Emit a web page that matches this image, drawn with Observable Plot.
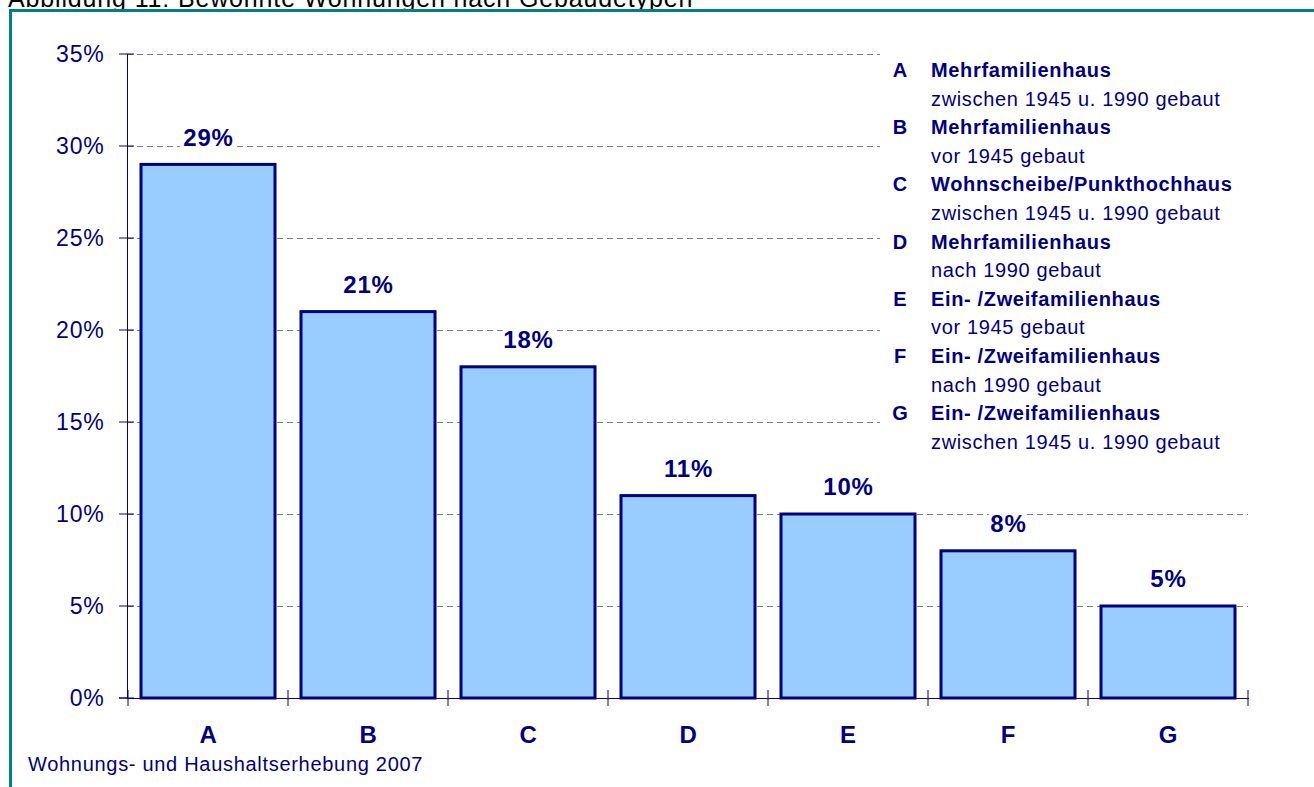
<!DOCTYPE html>
<html><head><meta charset="utf-8">
<script src="https://cdn.jsdelivr.net/npm/d3@7"></script>
<script src="https://cdn.jsdelivr.net/npm/@observablehq/plot@0.6"></script>
<style>
body{margin:0;background:#fff;font-family:"Liberation Sans",Arial,sans-serif;overflow:hidden}
#wrap{position:relative;width:1314px;height:787px;overflow:hidden;background:#fff}
#chart{position:absolute;left:0;top:0}
#chart text{letter-spacing:0.8px}
#frame{position:absolute;left:9px;top:9px;width:1400px;height:900px;border-top:3px solid #008080;border-left:3px solid #008080;pointer-events:none}
#title{position:absolute;left:8px;top:-14px;font-size:25px;line-height:25px;color:#000;white-space:nowrap;letter-spacing:0.85px}
#legend{position:absolute;left:880px;top:50px;width:372px;height:410px;background:#fff;padding-top:6px;box-sizing:border-box;color:#000080;font-size:20px;line-height:28.6px;letter-spacing:0.65px;white-space:nowrap}
.lg-row{position:relative;padding-left:51px}
.lg-key{position:absolute;left:11px;width:18px;text-align:center;font-weight:bold;letter-spacing:0}
.lg-name{font-weight:bold}
#caption{position:absolute;left:28px;top:754px;font-size:20px;line-height:20px;color:#000080;white-space:nowrap;letter-spacing:0.7px}
</style>
</head><body>
<div id="wrap">
  <div id="chart"></div>
  <div id="legend"></div>
  <div id="title">Abbildung 11: Bewohnte Wohnungen nach Gebäudetypen</div>
  <div id="caption">Wohnungs- und Haushaltserhebung 2007</div>
  <div id="frame"></div>
</div>
<script>
const categories = ["A","B","C","D","E","F","G"];
const shares = [29, 21, 18, 11, 10, 8, 5];
const yTicks = [0, 5, 10, 15, 20, 25, 30, 35];
const legendNames = ["Mehrfamilienhaus","Mehrfamilienhaus","Wohnscheibe/Punkthochhaus","Mehrfamilienhaus","Ein- /Zweifamilienhaus","Ein- /Zweifamilienhaus","Ein- /Zweifamilienhaus"];
const legendSubs = ["zwischen 1945 u. 1990 gebaut","vor 1945 gebaut","zwischen 1945 u. 1990 gebaut","nach 1990 gebaut","vor 1945 gebaut","nach 1990 gebaut","zwischen 1945 u. 1990 gebaut"];

const navy = "#000080";
const data = categories.map((c, i) => ({cat: c, v: shares[i]}));

function axisTicks(...args) {
  const scales = args.find(a => a && typeof a.x === "function" && typeof a.y === "function");
  const dims = args.find(a => a && a.marginLeft != null && a.width != null);
  const {x, y} = scales;
  const g = d3.create("svg:g").attr("stroke", navy).attr("stroke-width", 1).attr("fill", "none");
  let step, bw;
  if (typeof x.step === "function") { step = x.step(); bw = x.bandwidth(); }
  else { step = (dims.width - dims.marginLeft - dims.marginRight) / categories.length; bw = x.bandwidth || step * 0.835; }
  const bounds = categories.map(c => x(c) - (step - bw) / 2);
  bounds.push(x(categories[categories.length - 1]) + bw + (step - bw) / 2);
  const y0 = y(0);
  for (const b of bounds) g.append("line").attr("x1", b).attr("x2", b).attr("y1", y0 - 8).attr("y2", y0 + 8);
  const x0 = dims.marginLeft;
  for (const t of yTicks) g.append("line").attr("x1", x0 - 8).attr("x2", x0 + 7).attr("y1", y(t)).attr("y2", y(t));
  g.append("line").attr("x1", x0 - 8).attr("x2", x0).attr("y1", y0).attr("y2", y0);
  return g.node();
}

const chart = Plot.plot({
  width: 1314,
  height: 787,
  marginLeft: 127,
  marginRight: 66,
  marginTop: 54,
  marginBottom: 89,
  style: {background: "transparent", fontFamily: "'Liberation Sans', Arial, sans-serif", color: navy, overflow: "visible"},
  x: {domain: categories, paddingInner: 0.165, paddingOuter: 0.0825, align: 0.5, label: null},
  y: {domain: [0, 35], label: null},
  marks: [
    Plot.gridY(yTicks.filter(t => t > 0), {stroke: "#7f7f7f", strokeOpacity: 1, strokeDasharray: "6,4"}),
    Plot.barY(data, {x: "cat", y: "v", fill: "#99CCFF", stroke: navy, strokeWidth: 3}),
    Plot.frame({anchor: "left", stroke: navy}),
    Plot.frame({anchor: "bottom", stroke: navy}),
    Plot.axisY({ticks: yTicks, tickSize: 0, tickPadding: 23, tickFormat: d => d + "%", fontSize: 23, color: navy, label: null}),
    Plot.axisX({tickSize: 0, tickPadding: 27, fontSize: 24, fontWeight: "bold", color: navy, label: null}),
    Plot.text(data, {x: "cat", y: "v", text: d => d.v + "%", dy: -27, fontSize: 24, fontWeight: "bold", fill: navy, stroke: "white", strokeWidth: 8, paintOrder: "stroke"}),
    axisTicks
  ]
});
document.getElementById("chart").appendChild(chart);

const legend = document.getElementById("legend");
categories.forEach((c, i) => {
  const row = document.createElement("div");
  row.className = "lg-row";
  const key = document.createElement("span");
  key.className = "lg-key"; key.textContent = c;
  const name = document.createElement("span");
  name.className = "lg-name"; name.textContent = legendNames[i];
  row.appendChild(key); row.appendChild(name);
  const sub = document.createElement("div");
  sub.className = "lg-row"; sub.textContent = legendSubs[i];
  legend.appendChild(row); legend.appendChild(sub);
});
</script>
</body></html>
